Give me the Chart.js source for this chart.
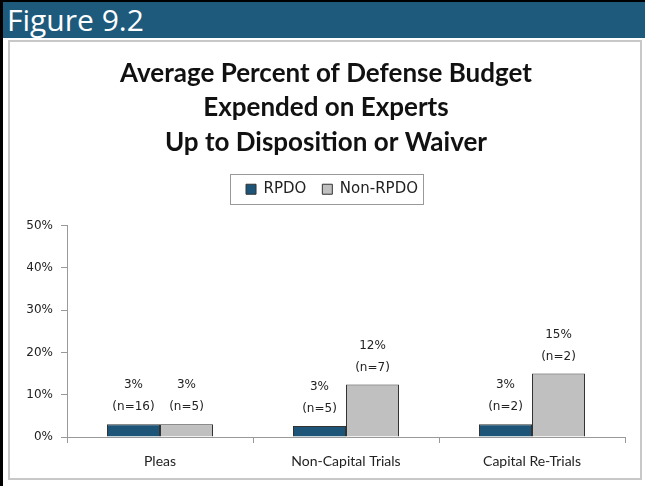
<!DOCTYPE html>
<html>
<head>
<meta charset="utf-8">
<script src="https://cdn.jsdelivr.net/npm/chart.js@4.4.1/dist/chart.umd.min.js"></script>
<style>
    body { margin: 0; background: #fff; }
    #page {
        position: relative;
        width: 642px;
        height: 484px;
        border-left: 3px solid #000;
        border-top: 2px solid #000;
        background: #fff;
    }
    #header {
        position: absolute;
        left: 0; top: 0;
        width: 642px; height: 36px;
        background: #1e5a7c;
        color: #fff;
        font-family: 'Open Sans', sans-serif;
        font-size: 30px;
        line-height: 36px;
        padding-left: 4px;
        box-sizing: border-box;
    }
    #box {
        position: absolute;
        left: 5px; top: 38px;
        width: 634px; height: 440px;
        border: 2px solid #c8c8c8;
        box-sizing: border-box;
        background: #fff;
    }
    #chartWrap {
        position: absolute;
        left: 2px; top: 2px;
        width: 628px; height: 434px;
    }
</style>
</head>
<body>
<div id="page">
    <div id="header">Figure 9.2</div>
    <div id="box">
        <div id="chartWrap"><canvas id="expertChart"></canvas></div>
    </div>
</div>
<script>
// data
const categories = ['Pleas', 'Non-Capital Trials', 'Capital Re-Trials'];
const rpdoPct = [3.0, 2.6, 3.0];
const nonRpdoPct = [3.0, 12.4, 15.0];
const rpdoN = [16, 5, 2];
const nonRpdoN = [5, 7, 2];
const yTicks = [0, 10, 20, 30, 40, 50];

const titleLines = ['Average Percent of Defense Budget', 'Expended on Experts', 'Up to Disposition or Waiver'];

// two-line labels above each bar: "3%" / "(n=16)"
const barLabels = {
    id: 'barLabels',
    afterDatasetsDraw(chart) {
        const ctx = chart.ctx;
        const counts = [rpdoN, nonRpdoN];
        ctx.save();
        ctx.font = '12px "DejaVu Sans"';
        ctx.fillStyle = '#222';
        ctx.textAlign = 'center';
        ctx.textBaseline = 'middle';
        chart.data.datasets.forEach((ds, di) => {
            chart.getDatasetMeta(di).data.forEach((bar, i) => {
                ctx.fillText(Math.round(ds.data[i]) + '%', bar.x, bar.y - 39);
                ctx.fillText('(n=' + counts[di][i] + ')', bar.x, bar.y - 17);
            });
        });
        ctx.restore();
    }
};

// legend gets some extra room below it, and a frame like in the original
const legendFrame = {
    id: 'legendFrame',
    beforeLayout(chart) {
        const lg = chart.legend;
        if (lg && !lg._extraRoom) {
            const fit = lg.fit.bind(lg);
            lg.fit = function () { fit(); this.height += 19; };
            lg._extraRoom = true;
        }
    },
    afterLayout(chart) {
        // row width counts a trailing padding, so nudge items back to centre
        const lg = chart.legend;
        lg.left += 6;
        lg.right += 6;
    },
    afterDraw(chart) {
        const boxes = chart.legend.legendHitBoxes;
        if (!boxes || !boxes.length) return;
        const left = Math.min(...boxes.map(b => b.left));
        const right = Math.max(...boxes.map(b => b.left + b.width));
        const top = Math.min(...boxes.map(b => b.top));
        const bottom = Math.max(...boxes.map(b => b.top + b.height));
        const ctx = chart.ctx;
        ctx.save();
        ctx.strokeStyle = '#999';
        ctx.lineWidth = 1;
        ctx.strokeRect(Math.round(left - 16) + 0.5, Math.round(top - 8) + 0.5,
            Math.round(right - left + 21), Math.round(bottom - top + 15));
        ctx.restore();
    }
};

const ctx = document.getElementById('expertChart').getContext('2d');
const expertChart = new Chart(ctx, {
    type: 'bar',
    data: {
        labels: categories,
        datasets: [{
            label: 'RPDO',
            data: rpdoPct,
            backgroundColor: '#1d5579',
            borderColor: '#333',
            borderWidth: 1
        }, {
            label: 'Non-RPDO',
            data: nonRpdoPct,
            backgroundColor: '#c0c0c0',
            borderColor: '#333',
            borderWidth: 1
        }]
    },
    options: {
        responsive: true,
        maintainAspectRatio: false,
        animation: false,
        layout: {
            padding: { left: 15, right: 15, top: 0, bottom: 0 }
        },
        datasets: {
            bar: {
                categoryPercentage: 0.57,
                barPercentage: 1.0
            }
        },
        plugins: {
            title: {
                display: true,
                text: titleLines,
                color: '#111',
                font: { family: 'Lato', size: 26, weight: 'bold', lineHeight: 1.33 },
                padding: { top: 12, bottom: 6 }
            },
            legend: {
                position: 'top',
                labels: {
                    boxWidth: 10,
                    boxHeight: 10,
                    color: '#222',
                    font: { family: 'DejaVu Sans', size: 15 },
                    padding: 16
                }
            },
            tooltip: { enabled: false }
        },
        scales: {
            x: {
                grid: {
                    drawOnChartArea: false,
                    drawTicks: true,
                    tickLength: 6,
                    color: '#999'
                },
                border: { color: '#999' },
                ticks: {
                    color: '#222',
                    font: { family: 'Lato', size: 14 },
                    padding: 10
                },
                afterFit(scale) { scale.height = 41; }
            },
            y: {
                min: 0,
                max: 50,
                afterBuildTicks(scale) {
                    scale.ticks = yTicks.map(v => ({ value: v }));
                },
                grid: {
                    drawOnChartArea: false,
                    drawTicks: true,
                    tickLength: 6,
                    color: '#999'
                },
                border: { color: '#999' },
                ticks: {
                    color: '#222',
                    font: { family: 'DejaVu Sans', size: 12 },
                    padding: 8,
                    callback: v => v + '%'
                },
                afterFit(scale) { scale.width = 40; }
            }
        }
    },
    plugins: [barLabels, legendFrame]
});
</script>
</body>
</html>
